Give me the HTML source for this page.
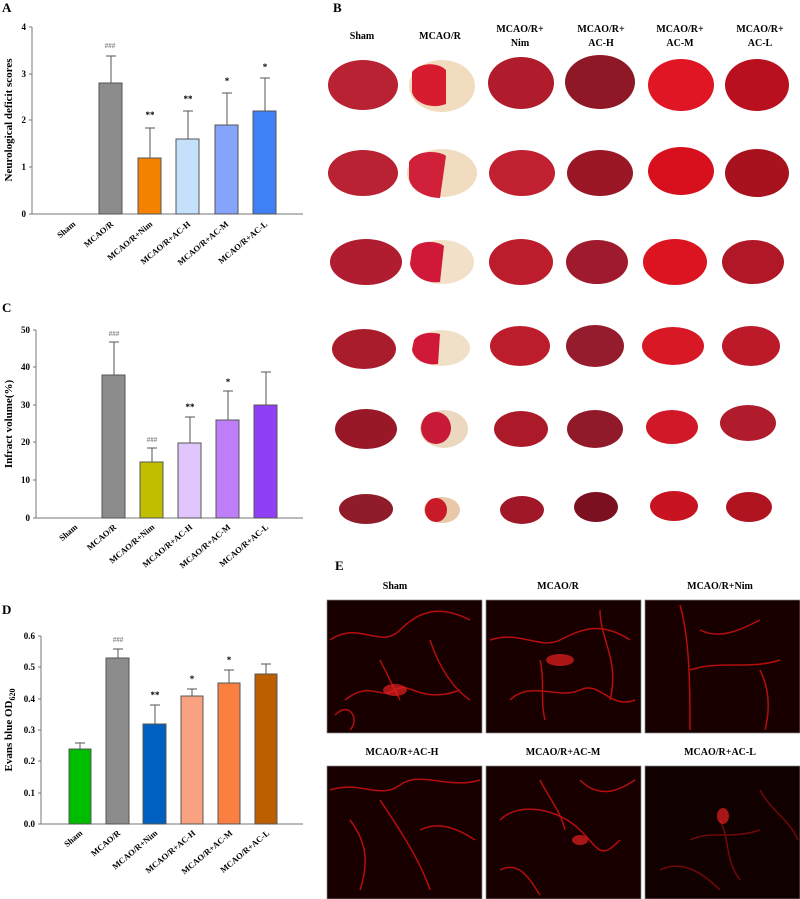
<!DOCTYPE html>
<html><head><meta charset="utf-8"><style>body{margin:0;background:#fff}svg{display:block}</style></head><body>
<svg width="800" height="899" viewBox="0 0 800 899" xmlns="http://www.w3.org/2000/svg" font-family="Liberation Serif, serif" font-weight="bold">
<rect width="800" height="899" fill="#fff"/>
<!-- Panel A -->
<text x="2" y="12" font-size="13">A</text>
<g stroke="#777" stroke-width="1" fill="none">
<path d="M32 27V214H303"/>
<path d="M29 27H32M29 74H32M29 120H32M29 167H32M29 214H32"/>
</g>
<g font-size="9" text-anchor="end"><text x="26" y="30">4</text><text x="26" y="77">3</text><text x="26" y="123">2</text><text x="26" y="170">1</text><text x="26" y="217">0</text></g>
<text transform="translate(12,120) rotate(-90)" font-size="11" text-anchor="middle">Neurological deficit scores</text>
<g stroke="#555" stroke-width="1">
<line x1="111" y1="83" x2="111" y2="56"/><line x1="106" y1="56" x2="116" y2="56"/>
<line x1="150" y1="158" x2="150" y2="128"/><line x1="145" y1="128" x2="155" y2="128"/>
<line x1="188" y1="139" x2="188" y2="111"/><line x1="183" y1="111" x2="193" y2="111"/>
<line x1="227" y1="125" x2="227" y2="93"/><line x1="222" y1="93" x2="232" y2="93"/>
<line x1="265" y1="111" x2="265" y2="78"/><line x1="260" y1="78" x2="270" y2="78"/>
<rect x="99" y="83" width="23" height="131" fill="#8c8c8c"/>
<rect x="138" y="158" width="23" height="56" fill="#f58100"/>
<rect x="176" y="139" width="23" height="75" fill="#c4e0fb"/>
<rect x="215" y="125" width="23" height="89" fill="#86a4fb"/>
<rect x="253" y="111" width="23" height="103" fill="#3f80f7"/>
</g>
<g font-size="9" text-anchor="middle"><text x="110" y="48" fill="#888" font-size="7">###</text><text x="150" y="118">**</text><text x="188" y="102">**</text><text x="227" y="84">*</text><text x="265" y="70">*</text></g>
<g font-size="8.5" text-anchor="end">
<text transform="translate(76,225) rotate(-40)">Sham</text>
<text transform="translate(114,225) rotate(-40)">MCAO/R</text>
<text transform="translate(153,225) rotate(-40)">MCAO/R+Nim</text>
<text transform="translate(191,225) rotate(-40)">MCAO/R+AC-H</text>
<text transform="translate(229,225) rotate(-40)">MCAO/R+AC-M</text>
<text transform="translate(268,225) rotate(-40)">MCAO/R+AC-L</text>
</g>
<!-- Panel C -->
<text x="2" y="312" font-size="13">C</text>
<g stroke="#777" stroke-width="1" fill="none">
<path d="M36 330V518H303"/>
<path d="M33 330H36M33 367H36M33 405H36M33 442H36M33 480H36M33 518H36"/>
</g>
<g font-size="9" text-anchor="end"><text x="30" y="333">50</text><text x="30" y="370">40</text><text x="30" y="408">30</text><text x="30" y="445">20</text><text x="30" y="483">10</text><text x="30" y="521">0</text></g>
<text transform="translate(12,424) rotate(-90)" font-size="11" text-anchor="middle">Infract volume(%)</text>
<g stroke="#555" stroke-width="1">
<line x1="114" y1="375" x2="114" y2="342"/><line x1="109" y1="342" x2="119" y2="342"/>
<line x1="152" y1="462" x2="152" y2="448"/><line x1="147" y1="448" x2="157" y2="448"/>
<line x1="190" y1="443" x2="190" y2="417"/><line x1="185" y1="417" x2="195" y2="417"/>
<line x1="228" y1="420" x2="228" y2="391"/><line x1="223" y1="391" x2="233" y2="391"/>
<line x1="266" y1="405" x2="266" y2="372"/><line x1="261" y1="372" x2="271" y2="372"/>
<rect x="102" y="375" width="23" height="143" fill="#8c8c8c"/>
<rect x="140" y="462" width="23" height="56" fill="#bfbf00"/>
<rect x="178" y="443" width="23" height="75" fill="#e0c6fc"/>
<rect x="216" y="420" width="23" height="98" fill="#bf7ef9"/>
<rect x="254" y="405" width="23" height="113" fill="#8f3ff7"/>
</g>
<g font-size="9" text-anchor="middle"><text x="114" y="336" fill="#888" font-size="7">###</text><text x="152" y="442" fill="#888" font-size="7">###</text><text x="190" y="410">**</text><text x="228" y="385">*</text></g>
<g font-size="8.5" text-anchor="end">
<text transform="translate(78,528) rotate(-40)">Sham</text>
<text transform="translate(117,528) rotate(-40)">MCAO/R</text>
<text transform="translate(155,528) rotate(-40)">MCAO/R+Nim</text>
<text transform="translate(193,528) rotate(-40)">MCAO/R+AC-H</text>
<text transform="translate(231,528) rotate(-40)">MCAO/R+AC-M</text>
<text transform="translate(269,528) rotate(-40)">MCAO/R+AC-L</text>
</g>
<!-- Panel D -->
<text x="2" y="614" font-size="13">D</text>
<g stroke="#777" stroke-width="1" fill="none">
<path d="M41 636V824H303"/>
<path d="M38 636H41M38 667H41M38 699H41M38 730H41M38 761H41M38 793H41M38 824H41"/>
</g>
<g font-size="9" text-anchor="end"><text x="35" y="639">0.6</text><text x="35" y="670">0.5</text><text x="35" y="702">0.4</text><text x="35" y="733">0.3</text><text x="35" y="764">0.2</text><text x="35" y="796">0.1</text><text x="35" y="827">0.0</text></g>
<text transform="translate(12,730) rotate(-90)" font-size="11" text-anchor="middle">Evans blue OD<tspan font-size="8" dy="3">620</tspan></text>
<g stroke="#555" stroke-width="1">
<line x1="80" y1="749" x2="80" y2="743"/><line x1="75" y1="743" x2="85" y2="743"/>
<line x1="118" y1="658" x2="118" y2="649"/><line x1="113" y1="649" x2="123" y2="649"/>
<line x1="155" y1="724" x2="155" y2="705"/><line x1="150" y1="705" x2="160" y2="705"/>
<line x1="192" y1="696" x2="192" y2="689"/><line x1="187" y1="689" x2="197" y2="689"/>
<line x1="229" y1="683" x2="229" y2="670"/><line x1="224" y1="670" x2="234" y2="670"/>
<line x1="266" y1="674" x2="266" y2="664"/><line x1="261" y1="664" x2="271" y2="664"/>
<rect x="69" y="749" width="22" height="75" fill="#00bd00"/>
<rect x="106" y="658" width="23" height="166" fill="#8c8c8c"/>
<rect x="143" y="724" width="23" height="100" fill="#0060c0"/>
<rect x="181" y="696" width="22" height="128" fill="#f9a280"/>
<rect x="218" y="683" width="22" height="141" fill="#f98040"/>
<rect x="255" y="674" width="22" height="150" fill="#bc5f00"/>
</g>
<g font-size="9" text-anchor="middle"><text x="118" y="642" fill="#888" font-size="7">###</text><text x="155" y="698">**</text><text x="192" y="682">*</text><text x="229" y="663">*</text></g>
<g font-size="8.5" text-anchor="end">
<text transform="translate(83,834) rotate(-40)">Sham</text>
<text transform="translate(121,834) rotate(-40)">MCAO/R</text>
<text transform="translate(158,834) rotate(-40)">MCAO/R+Nim</text>
<text transform="translate(196,834) rotate(-40)">MCAO/R+AC-H</text>
<text transform="translate(233,834) rotate(-40)">MCAO/R+AC-M</text>
<text transform="translate(270,834) rotate(-40)">MCAO/R+AC-L</text>
</g>
<!-- Panel B -->
<text x="333" y="12" font-size="13">B</text>
<g font-size="10" text-anchor="middle">
<text x="362" y="39">Sham</text><text x="440" y="39">MCAO/R</text>
<text x="520" y="32">MCAO/R+</text><text x="520" y="46">Nim</text>
<text x="601" y="32">MCAO/R+</text><text x="601" y="46">AC-H</text>
<text x="680" y="32">MCAO/R+</text><text x="680" y="46">AC-M</text>
<text x="760" y="32">MCAO/R+</text><text x="760" y="46">AC-L</text>
</g>
<g>
<!-- row1 y85 -->
<ellipse cx="363" cy="85" rx="35" ry="25" fill="#b82232"/>
<ellipse cx="442" cy="86" rx="33" ry="26" fill="#f2dcc0"/><path d="M412 72C420 62 438 62 446 70L446 104C430 110 414 102 412 92Z" fill="#d81c30"/>
<ellipse cx="521" cy="83" rx="33" ry="26" fill="#b01c2c"/>
<ellipse cx="600" cy="82" rx="35" ry="27" fill="#8e1826"/>
<ellipse cx="681" cy="85" rx="33" ry="26" fill="#e01624"/>
<ellipse cx="757" cy="85" rx="32" ry="26" fill="#b8101e"/>
<!-- row2 y173 -->
<ellipse cx="363" cy="173" rx="35" ry="23" fill="#b82232"/>
<ellipse cx="442" cy="173" rx="35" ry="24" fill="#f2dcc0"/><path d="M409 162C416 150 438 150 446 156L440 198C426 198 410 190 409 178Z" fill="#d0203a"/>
<ellipse cx="522" cy="173" rx="33" ry="23" fill="#c02030"/>
<ellipse cx="600" cy="173" rx="33" ry="23" fill="#9a1826"/>
<ellipse cx="681" cy="171" rx="33" ry="24" fill="#d8101e"/>
<ellipse cx="757" cy="173" rx="32" ry="24" fill="#a8121e"/>
<!-- row3 y262 -->
<ellipse cx="366" cy="262" rx="36" ry="23" fill="#b01c30"/>
<ellipse cx="442" cy="262" rx="32" ry="22" fill="#f2e0c8"/><path d="M412 250C418 240 436 240 444 246L440 282C426 284 412 276 410 264Z" fill="#d01838"/>
<ellipse cx="521" cy="262" rx="32" ry="23" fill="#bc1c2c"/>
<ellipse cx="597" cy="262" rx="31" ry="22" fill="#9e1a2c"/>
<ellipse cx="675" cy="262" rx="32" ry="23" fill="#dc1420"/>
<ellipse cx="753" cy="262" rx="31" ry="22" fill="#b01828"/>
<!-- row4 y348 -->
<ellipse cx="364" cy="349" rx="32" ry="20" fill="#a81c2c"/>
<ellipse cx="441" cy="348" rx="29" ry="18" fill="#f0e0c8"/><path d="M414 340C420 332 432 332 440 334L438 364C426 366 414 360 412 350Z" fill="#d01838"/>
<ellipse cx="520" cy="346" rx="30" ry="20" fill="#bc1c2c"/>
<ellipse cx="595" cy="346" rx="29" ry="21" fill="#941c2c"/>
<ellipse cx="673" cy="346" rx="31" ry="19" fill="#d81824"/>
<ellipse cx="751" cy="346" rx="29" ry="20" fill="#bc1a28"/>
<!-- row5 y429 -->
<ellipse cx="366" cy="429" rx="31" ry="20" fill="#981828"/>
<ellipse cx="444" cy="429" rx="24" ry="19" fill="#ecd8c0"/><ellipse cx="436" cy="428" rx="15" ry="16" fill="#c81a38"/>
<ellipse cx="521" cy="429" rx="27" ry="18" fill="#ac1a2a"/>
<ellipse cx="595" cy="429" rx="28" ry="19" fill="#901a2a"/>
<ellipse cx="672" cy="427" rx="26" ry="17" fill="#d01828"/>
<ellipse cx="748" cy="423" rx="28" ry="18" fill="#b01c2c"/>
<!-- row6 y508 -->
<ellipse cx="366" cy="509" rx="27" ry="15" fill="#901c2a"/>
<ellipse cx="442" cy="510" rx="18" ry="13" fill="#e8c8a8"/><ellipse cx="436" cy="510" rx="11" ry="12" fill="#c81a28"/>
<ellipse cx="522" cy="510" rx="22" ry="14" fill="#a01828"/>
<ellipse cx="596" cy="507" rx="22" ry="15" fill="#7a1020"/>
<ellipse cx="674" cy="506" rx="24" ry="15" fill="#c81420"/>
<ellipse cx="749" cy="507" rx="23" ry="15" fill="#b01420"/>
</g>
<!-- Panel E -->
<text x="335" y="570" font-size="13">E</text>
<g font-size="10" text-anchor="middle">
<text x="395" y="589">Sham</text><text x="558" y="589">MCAO/R</text><text x="720" y="589">MCAO/R+Nim</text>
<text x="402" y="755">MCAO/R+AC-H</text><text x="563" y="755">MCAO/R+AC-M</text><text x="720" y="755">MCAO/R+AC-L</text>
</g>
<g stroke="#888" stroke-width="0.7" fill="#180000">
<rect x="327" y="600" width="155" height="133"/><rect x="486" y="600" width="155" height="133"/><rect x="645" y="600" width="155" height="133"/>
<rect x="327" y="766" width="155" height="133"/><rect x="486" y="766" width="155" height="133"/><rect x="645" y="766" width="155" height="133" fill="#100000"/>
</g>
<g stroke="#d01010" stroke-width="1.5" fill="none" opacity="0.85">
<path d="M330 640C360 620 380 650 400 630S440 605 470 620M345 700C370 680 380 700 395 690S420 705 460 690M380 660C390 680 395 690 400 700M430 640C440 670 455 690 470 700M335 715C350 700 360 720 350 730"/>
<path d="M490 640C520 630 540 650 560 640S600 620 630 640M510 700C530 680 560 700 580 690S610 710 635 700M540 660C545 680 540 700 545 720M600 610C600 640 620 660 610 700"/>
<path d="M680 605C690 640 690 690 690 730M690 670C720 660 750 670 780 660M760 670C770 690 770 710 765 730M700 630C720 640 740 630 760 620"/>
<path d="M330 790C360 780 380 800 400 785S450 790 480 780M350 820C365 840 370 860 360 890M380 800C400 830 420 860 430 890M420 830C440 820 460 830 475 840"/>
<path d="M500 820C520 800 560 810 580 830S600 860 620 840M540 780C550 800 560 810 565 830M500 870C520 860 530 880 540 895M580 780C600 800 620 790 635 780"/>
<path d="M690 840C710 830 730 840 760 830M720 820C730 840 725 860 740 880M760 790C770 810 790 820 798 840M660 870C680 860 700 870 720 890" opacity="0.6"/>
</g>
<g fill="#e82020" opacity="0.7">
<ellipse cx="395" cy="690" rx="12" ry="6"/><ellipse cx="560" cy="660" rx="14" ry="6"/><ellipse cx="723" cy="816" rx="6" ry="8"/><ellipse cx="580" cy="840" rx="8" ry="5"/>
</g>
</svg>
</body></html>
